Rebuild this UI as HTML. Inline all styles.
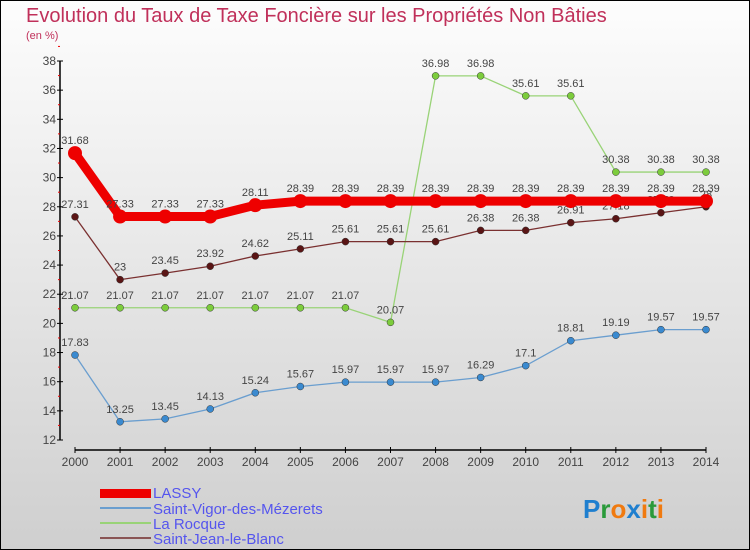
<!DOCTYPE html>
<html><head><meta charset="utf-8"><style>
body{margin:0;width:750px;height:550px;overflow:hidden;font-family:"Liberation Sans",sans-serif}
#wrap{position:absolute;left:0;top:0;width:748px;height:548px;border:1px solid #000;background:linear-gradient(#fdfdfd,#cfcfcf)}
</style></head><body>
<div id="wrap">
<svg id="chart" width="750" height="550" style="position:absolute;left:-1px;top:-1px">
<text x="26" y="22" font-size="20" fill="#c0305a">Evolution du Taux de Taxe Foncière sur les Propriétés Non Bâties</text>
<text x="26" y="39" font-size="11" fill="#c0305a">(en %)</text>
<g id="axes"></g><g id="series"></g>
<g>
<rect x="100" y="489" width="51" height="9" fill="#e00"/>
<text x="153" y="498" font-size="15" fill="#5555ee">LASSY</text>
<rect x="100" y="507" width="51" height="2" fill="#6a9ecf"/>
<text x="153" y="514" font-size="15" fill="#5555ee">Saint-Vigor-des-Mézerets</text>
<rect x="100" y="522" width="51" height="2" fill="#99d377"/>
<text x="153" y="529" font-size="15" fill="#5555ee">La Rocque</text>
<rect x="100" y="537" width="51" height="2" fill="#8a5555"/>
<text x="153" y="544" font-size="15" fill="#5555ee">Saint-Jean-le-Blanc</text>
</g>
<text x="583" y="518" font-size="26" font-weight="bold"><tspan fill="#1f7fcf">P</tspan><tspan fill="#2a9a3a">r</tspan><tspan fill="#f07a10">o</tspan><tspan fill="#1f7fcf">x</tspan><tspan fill="#f07a10">i</tspan><tspan fill="#2a9a3a">t</tspan><tspan fill="#f07a10">i</tspan></text>
</svg></div>
<script>
const years=[2000,2001,2002,2003,2004,2005,2006,2007,2008,2009,2010,2011,2012,2013,2014];
const yTicks=[12,14,16,18,20,22,24,26,28,30,32,34,36,38];
const lassy=[31.68,27.33,27.33,27.33,28.11,28.39,28.39,28.39,28.39,28.39,28.39,28.39,28.39,28.39,28.39];
const saintVigor=[17.83,13.25,13.45,14.13,15.24,15.67,15.97,15.97,15.97,16.29,17.1,18.81,19.19,19.57,19.57];
const laRocque=[21.07,21.07,21.07,21.07,21.07,21.07,21.07,20.07,36.98,36.98,35.61,35.61,30.38,30.38,30.38];
const saintJean=[27.31,23,23.45,23.92,24.62,25.11,25.61,25.61,25.61,26.38,26.38,26.91,27.18,27.59,28];
const NS="http://www.w3.org/2000/svg";
const xS=i=>75+i*(706-75)/14;
const yS=v=>440-(v-12)*(440-61)/26;
function mk(tag,attrs,parent){const e=document.createElementNS(NS,tag);for(const k in attrs)e.setAttribute(k,attrs[k]);parent.appendChild(e);return e;}
const ax=document.getElementById('axes');
const ya=mk('line',{x1:60,y1:61,x2:60,y2:440,stroke:'#000','stroke-width':1.5},ax);


yTicks.forEach(t=>{
  const l=mk('line',{x1:57,y1:yS(t),x2:63,y2:yS(t),stroke:'#000'},ax);
  
  
  const m=mk('line',{x1:58,y1:yS(t+1),x2:60,y2:yS(t+1),stroke:'#e00'},ax);
  
  
  const tx=mk('text',{x:56,y:yS(t)+4,'font-size':12,fill:'#444','text-anchor':'end'},ax);
  tx.textContent=t;
  
  
});
const xa=mk('line',{x1:75,y1:450,x2:706,y2:450,stroke:'#000','stroke-width':1.5},ax);


years.forEach((y,i)=>{
  const l=mk('line',{x1:xS(i),y1:447,x2:xS(i),y2:453,stroke:'#000'},ax);
  
  
  const tx=mk('text',{x:xS(i),y:466,'font-size':12,fill:'#444','text-anchor':'middle'},ax);
  tx.textContent=y;
  
  
});
const sg=document.getElementById('series');
function draw(vals,name,color,w,r,dot){
  const g=mk('g',{},sg);
  
  
  const p=mk('polyline',{points:vals.map((v,i)=>xS(i)+','+yS(v)).join(' '),fill:'none',stroke:color,'stroke-width':w},g);
  
  
  vals.forEach((v,i)=>{
    const c=mk('circle',{cx:xS(i),cy:yS(v),r:r,fill:dot,stroke:dot==='#e00'?'none':'#333','stroke-width':0.5},g);
    
    
    const t=mk('text',{x:xS(i),y:yS(v)-9,'font-size':11,fill:'#444','text-anchor':'middle'},g);
    t.textContent=v;
    
    
  });
}
draw(saintVigor,'saint-vigor','#6a9ecf',1.3,3.5,'#3a8ad0');
draw(laRocque,'la-rocque','#99d377',1.3,3.5,'#7ccc3c');
draw(saintJean,'saint-jean','#7a3030',1.3,3.5,'#5a1515');
draw(lassy,'lassy','#e00',9,7,'#e00');
</script>
</body></html>
